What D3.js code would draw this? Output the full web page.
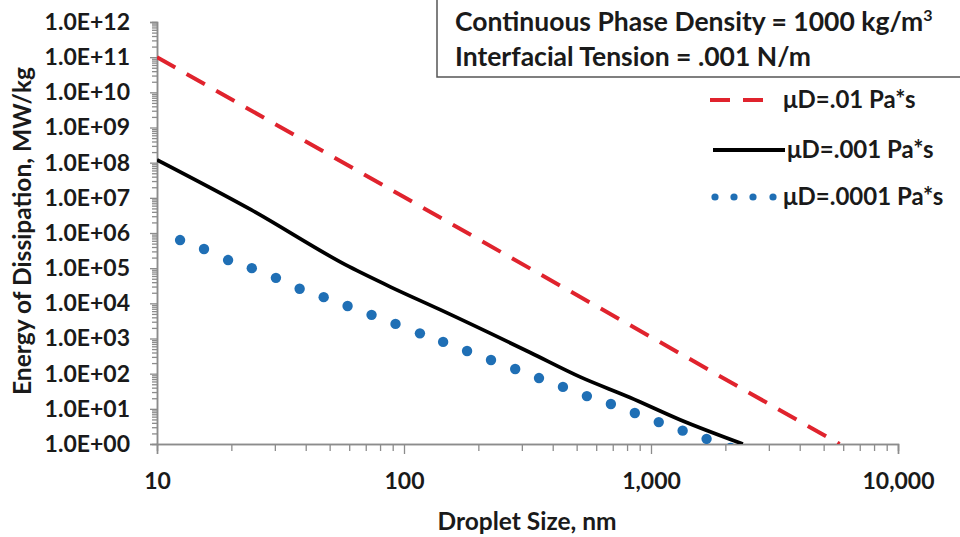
<!DOCTYPE html>
<html>
<head>
<meta charset="utf-8">
<script src="https://cdn.jsdelivr.net/npm/d3@7"></script>
<style>
  body { margin: 0; background: #fff; }
  svg text { font-family: Lato, "Open Sans", sans-serif; font-weight: bold; fill: #1a1a1a; }
</style>
</head>
<body>
<div id="chart"></div>
<script>
// data
var sizesRed = [10, 100, 1000, 5800];
var energyRed = [1e11, 1.05e7, 1.1e3, 1];

var sizesBlack = [10, 24, 60, 88, 140, 324, 516, 822, 1310, 2355];
var energyBlack = [1.2e8, 4.6e6, 1.1e5, 2.95e4, 6.6e3, 400, 81, 21, 4.9, 1];

var sizesBlue = [12.4, 15.5, 19.4, 24.2, 30.3, 37.8, 47.3, 59.1, 73.9, 92.4, 116, 144,
                 180, 225, 282, 352, 440, 550, 688, 860, 1075, 1343, 1679, 2099];
var energyBlue = [6.3e5, 3.5e5, 1.7e5, 1.0e5, 5.3e4, 2.6e4, 1.5e4, 8.4e3, 4.7e3, 2.6e3, 1.4e3, 800,
                  440, 245, 136, 75, 42, 23, 13.7, 7.6, 4.2, 2.4, 1.4, 0.77];

var xTicks = [10, 100, 1000, 10000];
var yTicks = [1e0, 1e1, 1e2, 1e3, 1e4, 1e5, 1e6, 1e7, 1e8, 1e9, 1e10, 1e11, 1e12];

var legendLabels = ["\u03BCD=.01 Pa*s", "\u03BCD=.001 Pa*s", "\u03BCD=.0001 Pa*s"];
var infoLines = ["Continuous Phase Density = 1000  kg/m", "Interfacial Tension = .001 N/m"];

var W = 960, H = 537;
var pLeft = 157, pRight = 898, pTop = 22, pBottom = 444;
var axisColor = "#8c8c8c";

var svg = d3.select("#chart").append("svg")
  .attr("width", W).attr("height", H);

var x = d3.scaleLog().domain([10, 10000]).range([pLeft, pRight]);
var y = d3.scaleLog().domain([1, 1e12]).range([pBottom, pTop]);

// minor ticks
var xMinor = [], yMinor = [];
[10, 100, 1000].forEach(function(d) { for (var k = 2; k < 10; k++) xMinor.push(d * k); });
for (var p = 0; p < 12; p++) for (var k = 2; k < 10; k++) yMinor.push(Math.pow(10, p) * k);

// y axis
svg.append("g").attr("transform", "translate(" + pLeft + ",0)")
  .call(d3.axisLeft(y).tickValues(yMinor).tickSize(5).tickFormat(""));
var yAxis = svg.append("g").attr("transform", "translate(" + pLeft + ",0)")
  .call(d3.axisLeft(y).tickValues(yTicks).tickSize(7).tickPadding(20)
    .tickFormat(function(d) {
      var e = Math.round(Math.log10(d));
      return "1.0E+" + (e < 10 ? "0" : "") + e;
    }));

// x axis
svg.append("g").attr("transform", "translate(0," + pBottom + ")")
  .call(d3.axisBottom(x).tickValues(xMinor).tickSize(7).tickFormat(""));
var xAxis = svg.append("g").attr("transform", "translate(0," + pBottom + ")")
  .call(d3.axisBottom(x).tickValues(xTicks).tickSize(10).tickPadding(19)
    .tickFormat(d3.format(",")));

svg.selectAll(".domain, .tick line").attr("stroke", axisColor).attr("stroke-width", 1.3);
svg.selectAll(".domain").attr("stroke-width", 1.5);
yAxis.selectAll("text").style("font-size", "23px").attr("fill", "#1a1a1a");
xAxis.selectAll("text").style("font-size", "23px").attr("fill", "#1a1a1a");

// axis titles
svg.append("text")
  .attr("transform", "translate(22,231) rotate(-90)")
  .attr("text-anchor", "middle").attr("dy", "0.35em")
  .style("font-size", "24.5px")
  .text("Energy of Dissipation, MW/kg");

svg.append("text")
  .attr("x", 527).attr("y", 521)
  .attr("text-anchor", "middle").attr("dy", "0.35em")
  .style("font-size", "24.5px")
  .text("Droplet Size, nm");

// clip to plot area
svg.append("clipPath").attr("id", "plotclip")
  .append("rect").attr("x", pLeft).attr("y", 0).attr("width", pRight - pLeft + 20).attr("height", pBottom);

var plot = svg.append("g").attr("clip-path", "url(#plotclip)");

var line = d3.line()
  .x(function(d) { return x(d[0]); })
  .y(function(d) { return y(d[1]); });

plot.append("path")
  .datum(d3.zip(sizesRed, energyRed))
  .attr("d", line)
  .attr("fill", "none")
  .attr("stroke", "#e0232d")
  .attr("stroke-width", 4)
  .attr("stroke-dasharray", "21,13");

plot.append("path")
  .datum(d3.zip(sizesBlack, energyBlack))
  .attr("d", line.curve(d3.curveMonotoneX))
  .attr("fill", "none")
  .attr("stroke", "#000")
  .attr("stroke-width", 3.7)
  .attr("stroke-linejoin", "round");

plot.selectAll("circle.blue")
  .data(d3.zip(sizesBlue, energyBlue))
  .enter()
  .append("circle")
    .attr("class", "blue")
    .attr("cx", function(d) { return x(d[0]); })
    .attr("cy", function(d) { return y(d[1]); })
    .attr("r", 5.2)
    .attr("fill", "#1f6fb5");

// info box
svg.append("rect")
  .attr("x", 437).attr("y", -5).attr("width", 600).attr("height", 82)
  .attr("fill", "#fff").attr("stroke", "#555").attr("stroke-width", 1.5);

var info1 = svg.append("text").attr("x", 455).attr("y", 31).style("font-size", "26.5px");
info1.append("tspan").text(infoLines[0]);
info1.append("tspan").attr("dy", -10).style("font-size", "16px").text("3");
svg.append("text").attr("x", 455).attr("y", 66).style("font-size", "26.5px").text(infoLines[1]);

// legend
var legendY = [100, 150, 197];
var lg = svg.append("g");
lg.append("line")
  .attr("x1", 710).attr("x2", 764).attr("y1", legendY[0]).attr("y2", legendY[0])
  .attr("stroke", "#e0232d").attr("stroke-width", 4).attr("stroke-dasharray", "20,13");
lg.append("line")
  .attr("x1", 713).attr("x2", 785).attr("y1", legendY[1]).attr("y2", legendY[1])
  .attr("stroke", "#000").attr("stroke-width", 4);
lg.selectAll("circle")
  .data([715, 734, 753, 773])
  .enter().append("circle")
    .attr("cx", function(d) { return d; })
    .attr("cy", legendY[2])
    .attr("r", 3.6)
    .attr("fill", "#1f6fb5");
lg.selectAll("text")
  .data(legendLabels)
  .enter().append("text")
    .attr("x", function(d, i) { return i == 1 ? 787 : 783; })
    .attr("y", function(d, i) { return legendY[i]; })
    .attr("dy", "0.35em")
    .style("font-size", "24px")
    .text(function(d) { return d; });
</script>
</body>
</html>
